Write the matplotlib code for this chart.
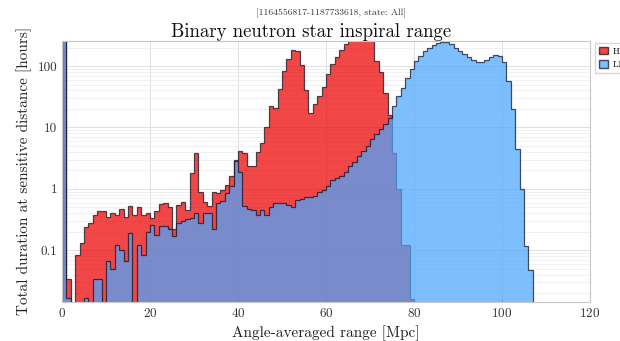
import numpy as np
import matplotlib
matplotlib.use("Agg")
import matplotlib.pyplot as plt
from matplotlib.ticker import FixedLocator, FuncFormatter, LogLocator, NullFormatter
from matplotlib.patches import Patch

plt.rcParams['font.family'] = 'serif'
plt.rcParams['font.serif'] = ['cmr10', 'DejaVu Serif']
plt.rcParams['axes.formatter.use_mathtext'] = True

# 1 Mpc range bins
edges = np.arange(0, 121, 1)

# hours spent in each range bin, H1 (bins 0-79)
h1_hours = [
    800, 0.034, 0, 0.083, 0.13, 0.24, 0.28, 0.38, 0.43, 0.44,
    0.35, 0.41, 0.37, 0.47, 0.35, 0.52, 0.38, 0.5, 0.38, 0.41,
    0.34, 0.44, 0.57, 0.6, 0.5, 0.22, 0.55, 0.62, 0.45, 1.8,
    3.9, 0.9, 0.62, 0.52, 0.88, 0.85, 0.95, 1.15, 1.65, 3.0,
    4.2, 3.8, 2.4, 2.4, 4.0, 5.6, 10.3, 22, 21, 43,
    83, 128, 183, 173, 105, 40, 17, 24, 32, 46,
    73, 107, 140, 183, 225, 320, 380, 420, 430, 400,
    330, 120, 80, 36, 16, 3.9, 1.0, 0.12, 0.12, 0.016,
]

# hours spent in each range bin, L1 (bins 0-106)
l1_hours = [
    900, 0.017, 0, 0, 0, 0.017, 0, 0.034, 0.034, 0,
    0.068, 0.05, 0.12, 0.1, 0.068, 0.19, 0, 0.12, 0.085, 0.2,
    0.26, 0.18, 0.25, 0.25, 0.22, 0.17, 0.28, 0.30, 0.32, 0.34,
    0.40, 0.28, 0.40, 0.40, 0.22, 0.59, 0.63, 0.86, 1.1, 2.8,
    1.9, 0.52, 0.47, 0.45, 0.37, 0.45, 0.37, 0.5, 0.58, 0.58,
    0.58, 0.55, 0.5, 0.66, 0.68, 0.74, 0.74, 0.76, 0.88, 0.95,
    1.12, 1.4, 1.5, 1.65, 1.87, 2.4, 2.7, 3.4, 4.2, 5.0,
    6.4, 7.7, 9.3, 11.2, 14, 22, 32, 44, 65, 89,
    122, 146, 176, 200, 219, 235, 250, 247, 226, 200,
    176, 158, 139, 126, 118, 118, 126, 139, 150, 144,
    115, 57, 20, 4.5, 1.0, 0.116, 0.048,
]

h1_color = '#ee0000'
l1_color = '#4ba6ff'

fig = plt.figure(figsize=(6.2, 3.41), dpi=100)
ax = fig.add_axes([0.1, 0.115, 0.8516, 0.766])

for hours, color, name in [(h1_hours, h1_color, 'H1'), (l1_hours, l1_color, 'L1')]:
    centres = edges[:len(hours)] + 0.5
    ax.hist(centres, bins=edges[:len(hours) + 1], weights=hours,
            histtype='stepfilled', facecolor=color, edgecolor='#101020',
            linewidth=0.9, alpha=0.72, label=name)

ax.set_yscale('log')
ax.set_xlim(0, 120)
ax.set_ylim(0.0145, 260)

ax.xaxis.set_major_locator(FixedLocator([0, 20, 40, 60, 80, 100, 120]))
ax.yaxis.set_major_locator(FixedLocator([0.1, 1, 10, 100]))
ax.yaxis.set_major_formatter(FuncFormatter(lambda v, p: '%g' % v))
ax.yaxis.set_minor_locator(LogLocator(base=10, subs=np.arange(2, 10)))
ax.yaxis.set_minor_formatter(NullFormatter())

ax.grid(True, which='major', color='#e0e0e0', linewidth=0.7)
ax.grid(True, which='minor', axis='y', color='#ececec', linewidth=0.5)
ax.set_axisbelow(True)
for s in ax.spines.values():
    s.set_color('#c8c8c8')
ax.tick_params(which='both', direction='in', length=0, labelsize=9.5,
               colors='#333333')
ax.tick_params(axis='x', which='major', length=2.5, color='#888888')

ax.set_xlabel('Angle-averaged range [Mpc]', fontsize=11, color='#222222')
ax.set_ylabel('Total duration at sensitive distance [hours]', fontsize=11,
              color='#222222')

fig.text(0.534, 0.962, '[1164556817-1187733618, state: All]', ha='center',
         va='center', fontsize=7, color='#333333')
ax.set_title('Binary neutron star inspiral range', fontsize=13.5, pad=2,
             color='#111111', x=0.472)

handles = [Patch(facecolor=h1_color, edgecolor='#101020', alpha=0.72, label='H1'),
           Patch(facecolor=l1_color, edgecolor='#101020', alpha=0.72, label='L1')]
ax.legend(handles=handles, loc='upper left', bbox_to_anchor=(1.005, 1.0),
          fontsize=6.5, frameon=True, fancybox=False, edgecolor='#cccccc',
          handlelength=1.0, handleheight=0.9, handletextpad=0.5,
          borderaxespad=0.3)

fig.savefig('out.png', dpi=100)
